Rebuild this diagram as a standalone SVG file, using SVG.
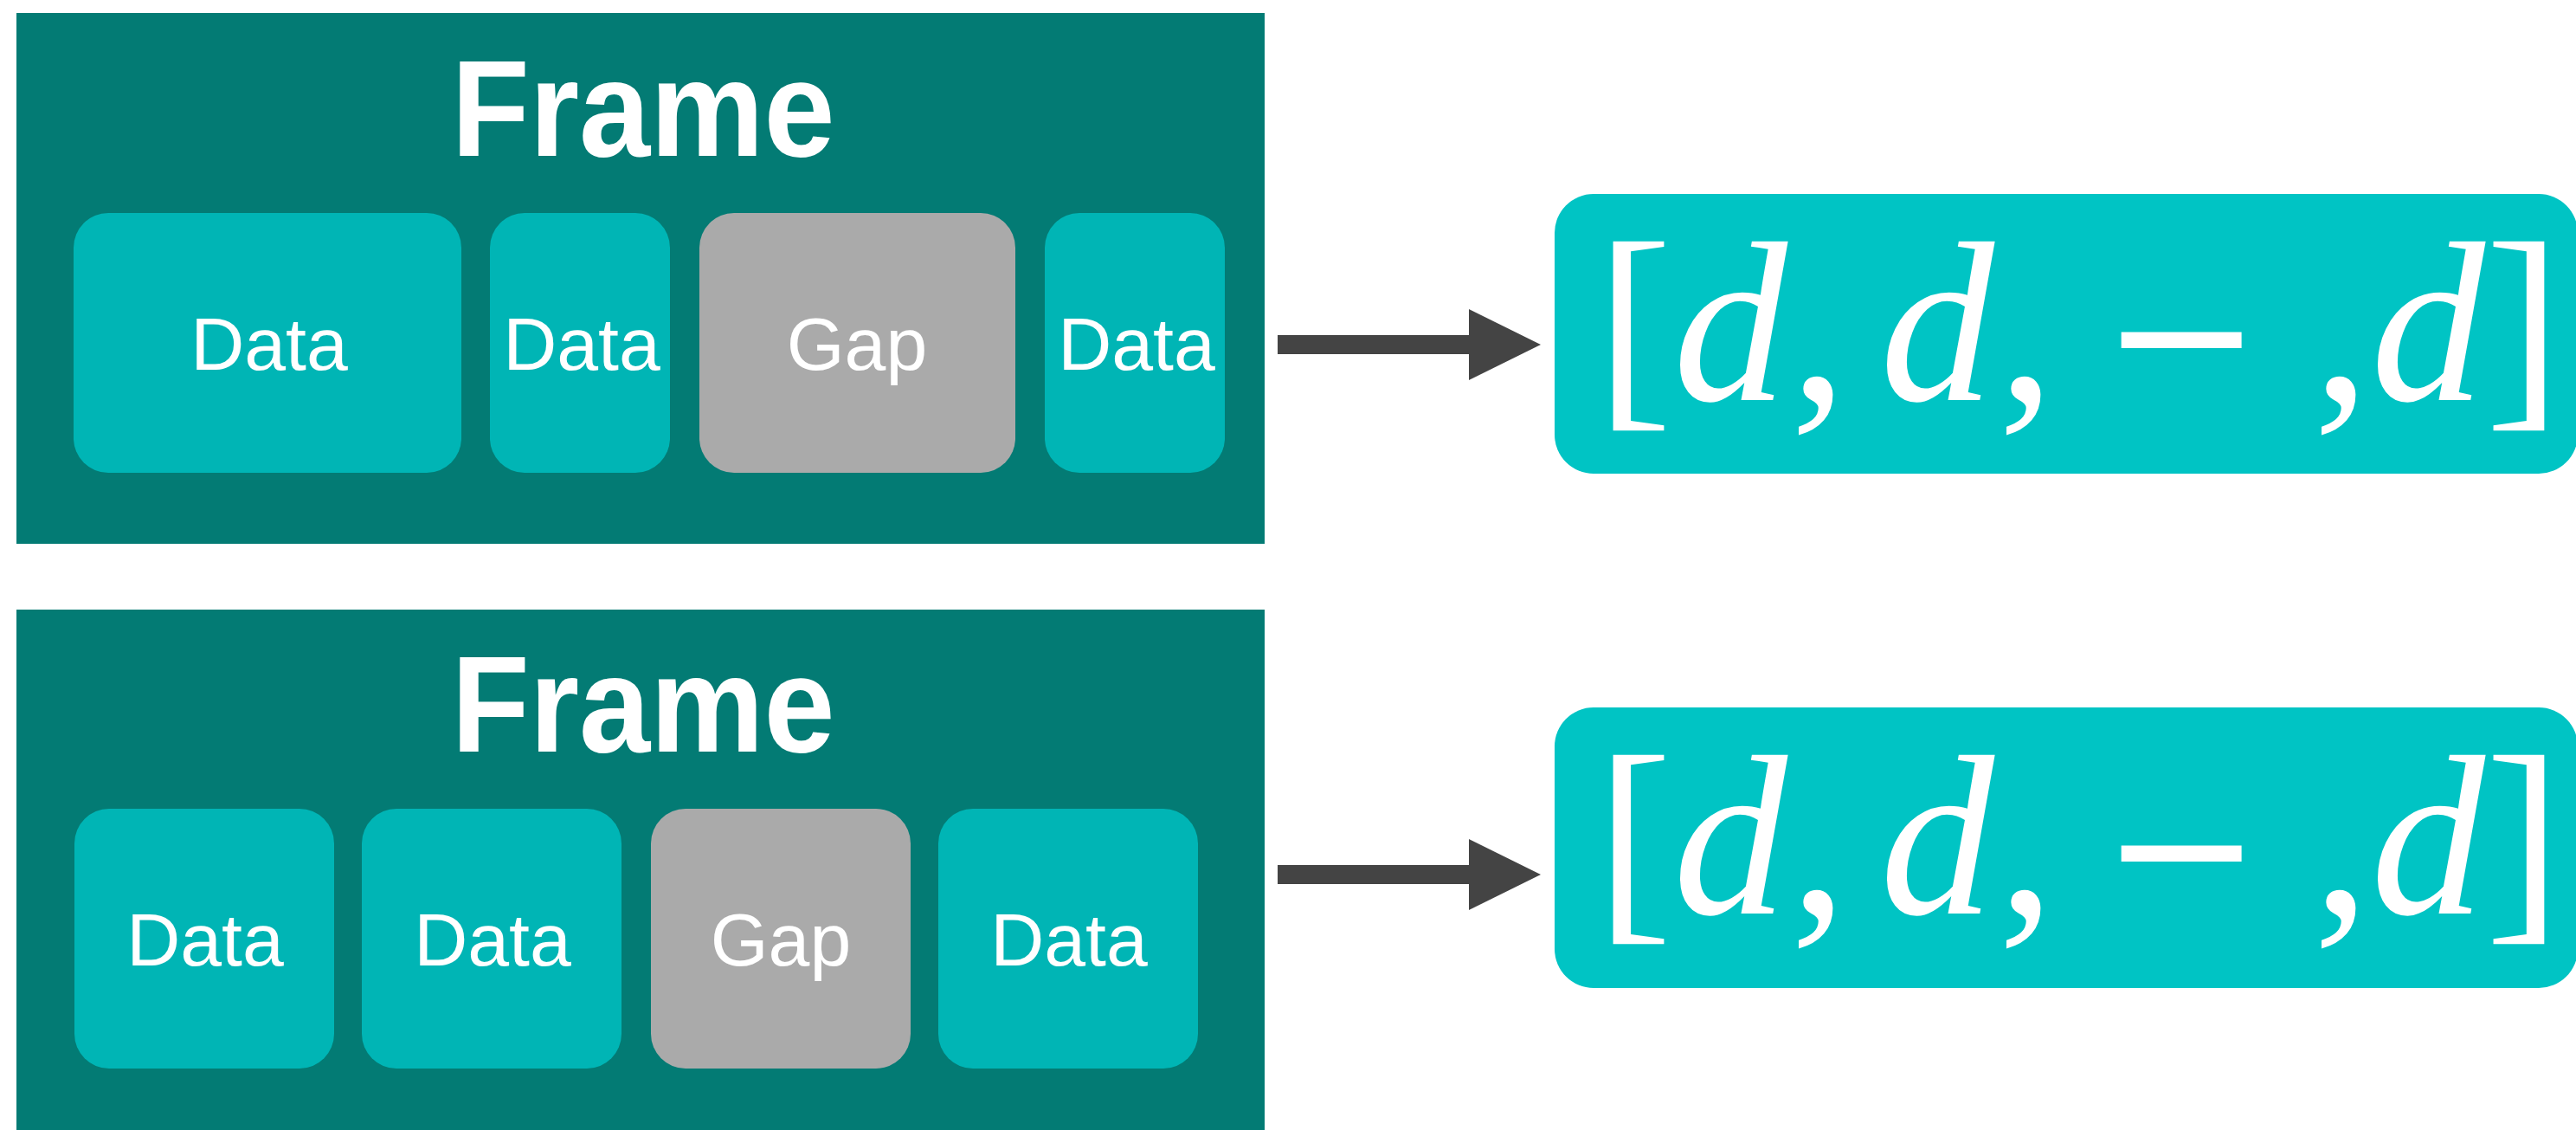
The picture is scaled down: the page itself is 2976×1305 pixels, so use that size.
<svg xmlns="http://www.w3.org/2000/svg" width="2976" height="1305" viewBox="0 0 2976 1305">
<defs>
<style>
.frame{fill:#037B74}
.data{fill:#00B5B5}
.gap{fill:#AAAAAA}
.result{fill:#00C4C4}
.title{font-family:"Liberation Sans",Arial,sans-serif;font-weight:bold;font-size:158px;fill:#FFFFFF;text-anchor:middle}
.lbl{font-family:"Liberation Sans",Arial,sans-serif;font-size:86px;fill:#FFFFFF;text-anchor:middle}
.math{font-family:"Liberation Serif","Times New Roman",serif;font-size:264px;fill:#FFFFFF}
.minus{font-family:"Liberation Serif","Times New Roman",serif;font-size:290px;fill:#FFFFFF;stroke:#FFFFFF;stroke-width:4;text-anchor:middle}
.it{font-style:italic}
.conn{stroke:#444444;stroke-width:22;fill:none}
</style>
<marker id="ah" markerUnits="userSpaceOnUse" markerWidth="90" markerHeight="90" viewBox="0 -45 90 90" refX="0" refY="0" orient="auto">
<polygon points="0,-41 83,0 0,41" fill="#444444"/>
</marker>
</defs>
<rect width="2976" height="1305" fill="#FFFFFF"/>

<g id="frame-top">
<rect class="frame" x="19" y="15" width="1442" height="613"/>
<text class="title" x="743" y="180" textLength="443" lengthAdjust="spacingAndGlyphs">Frame</text>
<g id="top-data-1"><rect class="data" x="85" y="246" width="448" height="300" rx="40"/><text class="lbl" x="311" y="427">Data</text></g>
<g id="top-data-2"><rect class="data" x="566" y="246" width="208" height="300" rx="40"/><text class="lbl" x="672" y="427">Data</text></g>
<g id="top-gap"><rect class="gap" x="808" y="246" width="365" height="300" rx="40"/><text class="lbl" x="990" y="427">Gap</text></g>
<g id="top-data-3"><rect class="data" x="1207" y="246" width="208" height="300" rx="40"/><text class="lbl" x="1313" y="427">Data</text></g>
</g>

<g id="frame-bottom">
<rect class="frame" x="19" y="704" width="1442" height="601"/>
<text class="title" x="743" y="868" textLength="443" lengthAdjust="spacingAndGlyphs">Frame</text>
<g id="bot-data-1"><rect class="data" x="86" y="934" width="300" height="300" rx="40"/><text class="lbl" x="237" y="1115">Data</text></g>
<g id="bot-data-2"><rect class="data" x="418" y="934" width="300" height="300" rx="40"/><text class="lbl" x="569" y="1115">Data</text></g>
<g id="bot-gap"><rect class="gap" x="752" y="934" width="300" height="300" rx="40"/><text class="lbl" x="902" y="1115">Gap</text></g>
<g id="bot-data-3"><rect class="data" x="1084" y="934" width="300" height="300" rx="40"/><text class="lbl" x="1235" y="1115">Data</text></g>
</g>

<g id="result-top">
<rect class="result" x="1796" y="224" width="1182" height="323" rx="45"/>
<text class="math" y="462"><tspan x="1844">[</tspan><tspan class="it" x="1933">d</tspan><tspan x="2068">,</tspan><tspan class="it" x="2172">d</tspan><tspan x="2308">,</tspan><tspan x="2672">,</tspan><tspan class="it" x="2739">d</tspan><tspan x="2871">]</tspan></text>
<text class="minus" x="2520" y="489">−</text>
</g>

<g id="result-bottom">
<rect class="result" x="1796" y="817" width="1182" height="324" rx="45"/>
<text class="math" y="1055"><tspan x="1844">[</tspan><tspan class="it" x="1933">d</tspan><tspan x="2068">,</tspan><tspan class="it" x="2172">d</tspan><tspan x="2308">,</tspan><tspan x="2672">,</tspan><tspan class="it" x="2739">d</tspan><tspan x="2871">]</tspan></text>
<text class="minus" x="2520" y="1082">−</text>
</g>

<g id="connectors">
<line class="conn" x1="1476" y1="398" x2="1697" y2="398" marker-end="url(#ah)"/>
<line class="conn" x1="1476" y1="1010" x2="1697" y2="1010" marker-end="url(#ah)"/>
</g>
</svg>
